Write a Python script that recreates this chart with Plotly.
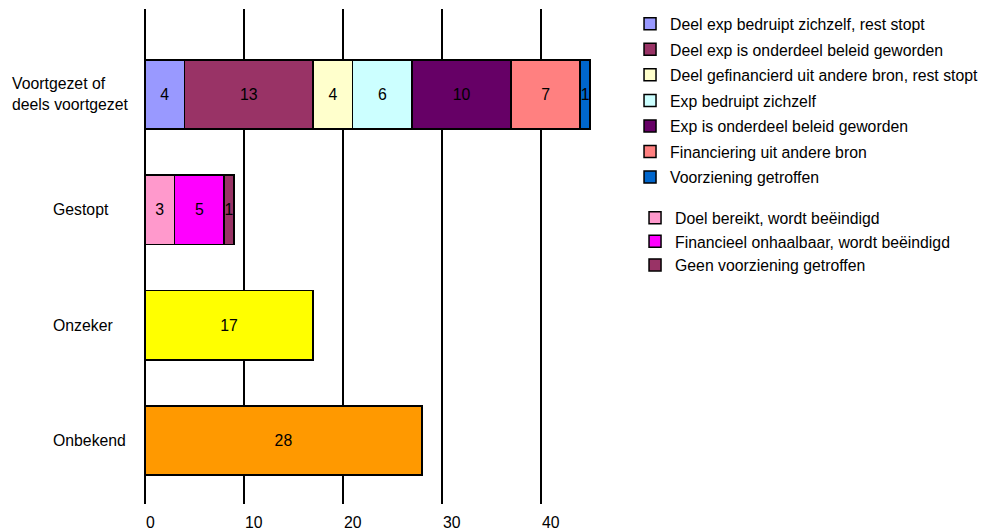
import plotly.graph_objects as go

# Categories (top to bottom as shown)
categories = ["Voortgezet of deels voortgezet", "Gestopt", "Onzeker", "Onbekend"]
category_labels = ["Voortgezet of<br>deels voortgezet", "Gestopt", "Onzeker", "Onbekend"]

# Continued (partly) projects, by reason
voortgezet_names = [
    "Deel exp bedruipt zichzelf, rest stopt",
    "Deel exp is onderdeel beleid geworden",
    "Deel gefinancierd uit andere bron, rest stopt",
    "Exp bedruipt zichzelf",
    "Exp is onderdeel beleid geworden",
    "Financiering uit andere bron",
    "Voorziening getroffen",
]
voortgezet_values = [4, 13, 4, 6, 10, 7, 1]
voortgezet_colors = ["#9999FF", "#993366", "#FFFFCC", "#CCFFFF", "#660066", "#FF8080", "#0066CC"]

# Stopped projects, by reason
gestopt_names = [
    "Doel bereikt, wordt beëindigd",
    "Financieel onhaalbaar, wordt beëindigd",
    "Geen voorziening getroffen",
]
gestopt_values = [3, 5, 1]
gestopt_colors = ["#FF99CC", "#FF00FF", "#993366"]

onzeker_value = 17
onbekend_value = 28

x_ticks = [0, 10, 20, 30, 40]

FONT = "Liberation Sans, Arial, sans-serif"
FS = 15.8
outline = dict(color="black", width=1.5)
bar_text = dict(color="black", size=FS, family=FONT)

fig = go.Figure()

for i, (name, val, col) in enumerate(zip(voortgezet_names, voortgezet_values, voortgezet_colors)):
    fig.add_trace(go.Bar(
        y=[categories[0]], x=[val], orientation="h", name=name,
        marker=dict(color=col, line=outline), text=[str(val)],
        textposition="inside", insidetextanchor="middle", textfont=bar_text,
        legend="legend", legendgroup=f"v{i}",
    ))

for i, (name, val, col) in enumerate(zip(gestopt_names, gestopt_values, gestopt_colors)):
    fig.add_trace(go.Bar(
        y=[categories[1]], x=[val], orientation="h", name=name,
        marker=dict(color=col, line=outline), text=[str(val)],
        textposition="inside", insidetextanchor="middle", textfont=bar_text,
        legend="legend2", legendgroup=f"g{i}",
    ))

fig.add_trace(go.Bar(
    y=[categories[2]], x=[onzeker_value], orientation="h", name="Onzeker",
    marker=dict(color="#FFFF00", line=outline), text=[str(onzeker_value)],
    textposition="inside", insidetextanchor="middle", textfont=bar_text,
    showlegend=False,
))
fig.add_trace(go.Bar(
    y=[categories[3]], x=[onbekend_value], orientation="h", name="Onbekend",
    marker=dict(color="#FF9900", line=outline), text=[str(onbekend_value)],
    textposition="inside", insidetextanchor="middle", textfont=bar_text,
    showlegend=False,
))

# Geometry of the plotting area
plot_left = 145
x_max = 46
px_per_unit = 9.9
plot_w = x_max * px_per_unit

# Category labels in the left margin
for cat, lab in zip(categories, category_labels):
    left_px = 10 if "<br>" in lab else 51
    fig.add_annotation(
        x=(left_px - plot_left) / plot_w, xref="paper", xanchor="left",
        y=cat, yref="y", yanchor="middle",
        text=lab, showarrow=False, align="left",
        font=dict(size=FS, color="black", family=FONT),
    )

# Value-axis labels, left-aligned on their gridlines
for t in x_ticks:
    fig.add_annotation(
        x=t, xref="x", xanchor="left", xshift=-1,
        y=0, yref="paper", yanchor="top", yshift=-8,
        text=str(t), showarrow=False,
        font=dict(size=FS, color="black", family=FONT),
    )

fig.update_layout(
    width=982, height=530,
    margin=dict(l=plot_left, r=982 - plot_left - plot_w, t=9, b=26, autoexpand=False),
    paper_bgcolor="white", plot_bgcolor="white",
    barmode="stack", bargap=0.4,
    font=dict(family=FONT, size=FS, color="black"),
    uniformtext=dict(minsize=FS, mode="show"),
    xaxis=dict(
        range=[0, x_max], tickvals=x_ticks, showticklabels=False,
        showgrid=True, gridcolor="black", gridwidth=1.5,
        zeroline=True, zerolinecolor="black", zerolinewidth=1.5,
        showline=False, ticks="", automargin=False,
    ),
    yaxis=dict(
        categoryorder="array", categoryarray=categories[::-1],
        range=[-0.55, 3.74], showticklabels=False, showgrid=False,
        zeroline=False, showline=False, ticks="", automargin=False,
    ),
    legend=dict(
        x=1.066, xanchor="left", y=1.004, yanchor="top",
        tracegroupgap=2, traceorder="grouped",
        font=dict(size=FS, family=FONT, color="black"),
        bgcolor="rgba(0,0,0,0)",
    ),
    legend2=dict(
        x=1.077, xanchor="left", y=0.612, yanchor="top",
        tracegroupgap=0, traceorder="grouped",
        font=dict(size=FS, family=FONT, color="black"),
        bgcolor="rgba(0,0,0,0)",
    ),
)

fig.write_html("out.html")
